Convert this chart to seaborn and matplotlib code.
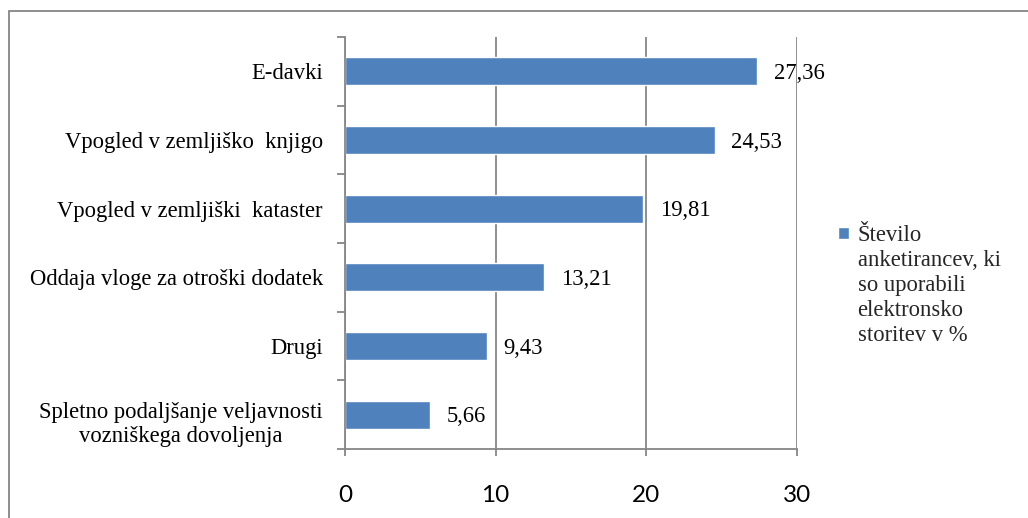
import matplotlib
matplotlib.use("Agg")
import matplotlib.pyplot as plt
from matplotlib.patches import Rectangle
from matplotlib.ticker import FixedLocator
import seaborn as sns
import pandas as pd

categories = [
    "E-davki",
    "Vpogled v zemljiško  knjigo",
    "Vpogled v zemljiški  kataster",
    "Oddaja vloge za otroški dodatek",
    "Drugi",
    "Spletno podaljšanje veljavnosti\nvozniškega dovoljenja",
]
values = [27.36, 24.53, 19.81, 13.21, 9.43, 5.66]
x_ticks = [0, 10, 20, 30]
series_label = "Število\nanketirancev, ki\nso uporabili\nelektronsko\nstoritev v %"

df = pd.DataFrame({"storitev": categories, "delez": values})

sns.set_theme(style="white")
plt.rcParams["font.family"] = ["Liberation Serif", "DejaVu Serif"]

BAR = "#4F81BD"
GRID = "#868686"
W, H = 1028, 518
FS = 16.3

fig = plt.figure(figsize=(W / 100, H / 100), dpi=100)
fig.patch.set_facecolor("white")

# outer chart frame (runs off the right and bottom edges)
fig.add_artist(Rectangle((9 / W, -0.5), 1.2, 1 - 11 / H + 0.5, transform=fig.transFigure,
                         fill=False, edgecolor=GRID, linewidth=1.3))

left, right = 345 / W, 797 / W
top, bottom = 1 - 37 / H, 1 - 449 / H
ax = fig.add_axes([left, bottom, right - left, top - bottom])

sns.barplot(data=df, x="delez", y="storitev", orient="h", color=BAR,
            width=0.41, saturation=1, ax=ax, label=series_label)

ax.set_xlim(0, 30)
ax.set_ylim(5.5, -0.5)
ax.set_xlabel("")
ax.set_ylabel("")

# vertical gridlines
ax.set_xticks(x_ticks)
ax.set_xticklabels([str(t) for t in x_ticks], fontfamily="Lato", fontsize=17.5, color="black")
ax.grid(axis="x", color=GRID, linewidth=1.3)
ax.grid(axis="y", visible=False)
ax.set_axisbelow(True)
ax.tick_params(axis="x", direction="out", length=5, width=1.3, color=GRID, pad=21, bottom=True)

# category labels; the two-line label sits a little lower in its band
label_pos = [i + (0.08 if "\n" in c else 0) for i, c in enumerate(categories)]
ax.set_yticks(label_pos)
ax.set_yticklabels(categories, fontsize=FS, color="black", linespacing=1.2)
for t in ax.get_yticklabels():
    t.set_multialignment("center")
ax.tick_params(axis="y", which="major", length=0, pad=16, left=True)
ax.yaxis.set_minor_locator(FixedLocator([i - 0.5 for i in range(len(categories) + 1)]))
ax.tick_params(axis="y", which="minor", direction="out", length=6, width=1.3, color=GRID, left=True)

for side in ("top", "right"):
    ax.spines[side].set_visible(False)
for side in ("left", "bottom"):
    ax.spines[side].set_color(GRID)
    ax.spines[side].set_linewidth(1.3)

# value labels with decimal comma
cont = ax.containers[0]
for t in ax.bar_label(cont, labels=[f"{v:.2f}".replace(".", ",") for v in values],
                      padding=12, fontsize=FS, color="black"):
    t.set_y(-1.5)

LS = 1.24
leg = ax.legend(loc="upper left", bbox_to_anchor=(827 / W, 1 - 214 / H),
                bbox_transform=fig.transFigure, frameon=False, borderpad=0,
                handlelength=0.45, handleheight=0.45, handletextpad=0.4,
                fontsize=FS, labelspacing=0)
for txt in leg.get_texts():
    txt.set_linespacing(LS)
# put the marker next to the first line of the label
h = leg.legend_handles[0]
h.set_y(h.get_y() + 37.5)

fig.savefig("out.png", dpi=100, facecolor="white")
